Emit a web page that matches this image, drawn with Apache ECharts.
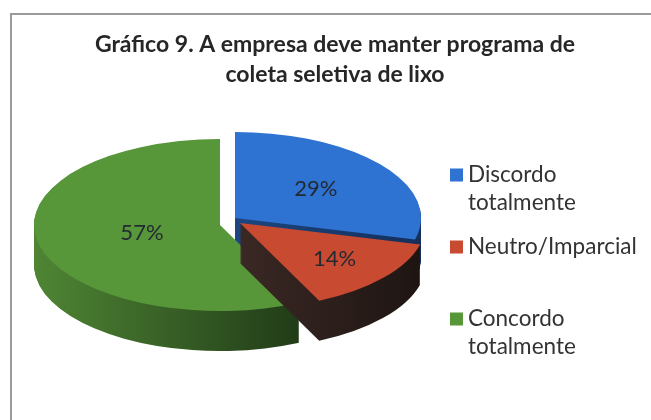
<!DOCTYPE html>
<html>
  <head>
    <meta charset="utf-8" />
    <title>Gráfico 9</title>
    <script src="https://cdn.jsdelivr.net/npm/echarts@6/dist/echarts.min.js"></script>
    <style>
      * {
        margin: 0;
        padding: 0;
      }
      html,
      body {
        background: #fff;
      }
      #container {
        width: 651px;
        height: 420px;
      }
    </style>
  </head>
  <body>
    <div id="container"></div>
    <script>
      // dados do gráfico
      const categories = ["Discordo totalmente", "Neutro/Imparcial", "Concordo totalmente"];
      const legendText = ["\nDiscordo\ntotalmente", "Neutro/Imparcial", "\nConcordo\ntotalmente"];
      const values = [29, 14, 57];

      // estilo
      const topColors = ["#2e72d2", "#c84a31", "#58963a"];
      const sideColors = [
        ["#1d4680", "#142f5a"],
        ["#3a2824", "#1e1513"],
        ["#4f8534", "#213c18"],
      ];
      const PIE = { cx: 235, cy: 218, rx: 186, ry: 86, depth: 40 };
      const explode = [[0, 0], [5, 5], [-15, 7]];
      const labelRatio = [0.55, 0.66, 0.43];
      const drawOrder = [0, 2, 1]; // de trás para frente

      const chartDom = document.getElementById("container");
      const myChart = echarts.init(chartDom);

      const total = values.reduce((a, b) => a + b, 0);

      const pt = (cx, cy, a, r) => [
        cx + PIE.rx * r * Math.sin(a),
        cy - PIE.ry * r * Math.cos(a),
      ];

      const sectorPath = (cx, cy, a0, a1) => {
        const p0 = pt(cx, cy, a0, 1);
        const p1 = pt(cx, cy, a1, 1);
        const large = a1 - a0 > Math.PI ? 1 : 0;
        return (
          "M" + cx + " " + cy +
          "L" + p0[0] + " " + p0[1] +
          "A" + PIE.rx + " " + PIE.ry + " 0 " + large + " 1 " + p1[0] + " " + p1[1] +
          "Z"
        );
      };

      const renderSlice = (i) => (params, api) => {
        let before = 0;
        for (let k = 0; k < i; k++) before += values[k];
        const v = api.value(0);
        const a0 = (before / total) * 2 * Math.PI;
        const a1 = ((before + v) / total) * 2 * Math.PI;
        const cx = PIE.cx + explode[i][0];
        const cy = PIE.cy + explode[i][1];
        const side = new echarts.graphic.LinearGradient(0, 0, 1, 0, [
          { offset: 0, color: sideColors[i][0] },
          { offset: 1, color: sideColors[i][1] },
        ]);
        const children = [];
        // lateral (camadas)
        for (let d = PIE.depth; d >= 1; d--) {
          children.push({
            type: "path",
            shape: { pathData: sectorPath(cx, cy + d, a0, a1) },
            style: { fill: side },
          });
        }
        // topo
        children.push({
          type: "path",
          shape: { pathData: sectorPath(cx, cy, a0, a1) },
          style: { fill: api.visual("color") },
        });
        const lp = pt(cx, cy, (a0 + a1) / 2, labelRatio[i]);
        children.push({
          type: "text",
          x: lp[0],
          y: lp[1],
          style: {
            text: Math.round((v / total) * 100) + "%",
            fill: "#232a33",
            font: "22px Lato",
            align: "center",
            verticalAlign: "middle",
          },
        });
        return { type: "group", children: children };
      };

      myChart.setOption({
        animation: false,
        backgroundColor: "#fff",
        title: {
          text: "Gráfico 9. A empresa deve manter programa de\ncoleta seletiva de lixo",
          left: 335,
          top: 30,
          padding: 0,
          textAlign: "center",
          textStyle: {
            fontFamily: "Lato",
            fontWeight: "bold",
            fontSize: 23,
            lineHeight: 30,
            color: "#262626",
          },
        },
        legend: {
          data: categories,
          orient: "vertical",
          left: 450,
          top: 133,
          padding: 0,
          itemWidth: 13,
          itemHeight: 13,
          itemGap: 16,
          icon: "rect",
          selectedMode: false,
          formatter: (name) => legendText[categories.indexOf(name)],
          textStyle: {
            fontFamily: "Lato",
            fontSize: 22.5,
            lineHeight: 28,
            color: "#333",
          },
        },
        graphic: [
          {
            type: "rect",
            shape: { x: 11, y: 14, width: 700, height: 500 },
            style: { fill: null, stroke: "#9a9a9a", lineWidth: 2 },
            silent: true,
          },
        ],
        series: drawOrder.map((i, n) => ({
          type: "custom",
          name: categories[i],
          coordinateSystem: "none",
          silent: true,
          z: 2 + n,
          itemStyle: { color: topColors[i] },
          data: [values[i]],
          renderItem: renderSlice(i),
        })),
      });
    </script>
  </body>
</html>
